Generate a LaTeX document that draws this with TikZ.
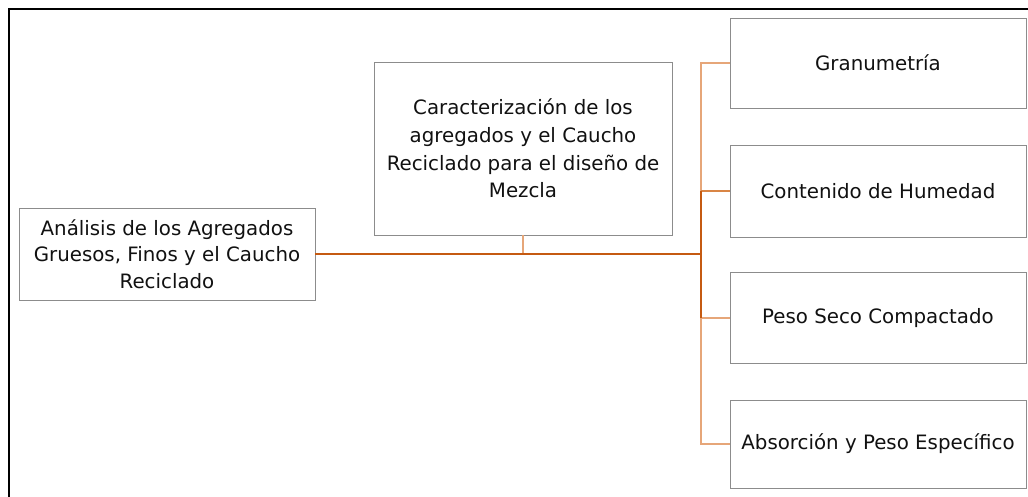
\documentclass[tikz,border=0pt]{standalone}
\usepackage{fontspec}
\setmainfont{DejaVu Sans}
\begin{document}
\begin{tikzpicture}[x=1pt,y=-1pt,
  box/.style={draw=boxgray, line width=0.9pt, fill=white, text=txt, align=center,
    inner sep=0pt, font=\fontsize{19.8}{26.5}\selectfont},
  darkline/.style={draw=darkor, line width=2pt},
  midline/.style={draw=midor, line width=1.6pt},
  lightline/.style={draw=lightor, line width=1.5pt},
  frame/.style={draw=black, line width=2.2pt}]
\definecolor{boxgray}{HTML}{8C8C8C}
\definecolor{txt}{HTML}{111111}
\definecolor{darkor}{HTML}{C55A11}
\definecolor{midor}{HTML}{D98545}
\definecolor{lightor}{HTML}{E6A679}
\useasboundingbox (0,0) rectangle (1028,496);
\draw[frame] (9,520) -- (9,9) -- (1050,9);
\node[box, minimum width=296pt, minimum height=92pt] (left) at (167,254)
  {Análisis de los Agregados\\Gruesos, Finos y el Caucho\\Reciclado};
\node[box, minimum width=298pt, minimum height=173pt, font=\fontsize{19.8}{27.8}\selectfont] (mid) at (523,148.5)
  {Caracterización de los\\agregados y el Caucho\\Reciclado para el diseño de\\Mezcla};
\node[box, minimum width=296pt, minimum height=90pt] (r1) at (878,63) {Granumetría};
\node[box, minimum width=296pt, minimum height=92pt] (r2) at (878,191) {Contenido de Humedad};
\node[box, minimum width=296pt, minimum height=91pt] (r3) at (878,318) {Peso Seco Compactado};
\node[box, minimum width=296pt, minimum height=88pt] (r4) at (878,444) {Absorción y Peso Específico};
\coordinate (hub) at (701,254);
\draw[lightline] (mid.south) -- (mid.south |- hub);
\draw[lightline] (hub |- r2.west) -- (hub |- r1.west) -- (r1.west);
\draw[midline] (hub |- r2.west) -- (r2.west);
\draw[lightline] (hub |- r3.west) -- (r3.west);
\draw[lightline] (hub |- r3.west) -- (hub |- r4.west) -- (r4.west);
\draw[darkline] (hub |- r2.west) -- (hub |- r3.west);
\draw[darkline] (left.east) -- (hub);
\end{tikzpicture}
\end{document}
